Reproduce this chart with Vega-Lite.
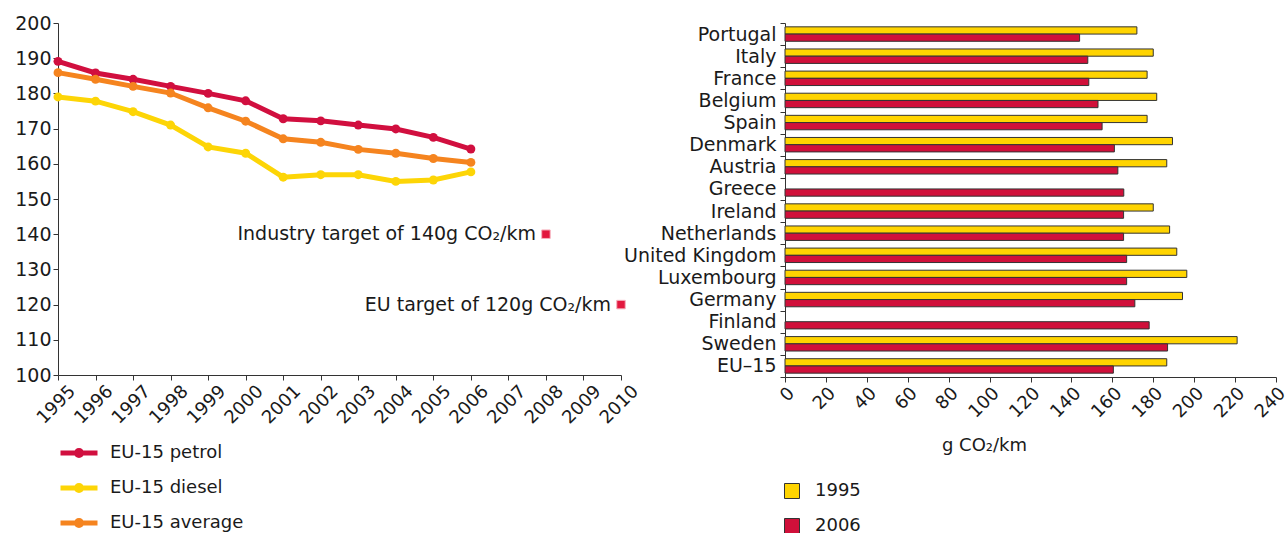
{
  "$schema": "https://vega.github.io/schema/vega-lite/v6.json",
  "padding": {"left": 14, "top": 14, "right": 0, "bottom": 0},
  "bounds": "flush",
  "spacing": 164,
  "resolve": {"scale": {"color": "independent"}, "legend": {"color": "independent"}},
  "config": {
    "font": "DejaVu Sans",
    "view": {"stroke": null},
    "axis": {
      "labelFont": "DejaVu Sans", "labelFontSize": 19, "labelColor": "#1a1a1a",
      "labelOverlap": false, "labelFlush": false,
      "domainColor": "#333333", "tickColor": "#333333", "tickSize": 5, "grid": false,
      "titleFont": "DejaVu Sans", "titleFontSize": 18, "titleFontWeight": "normal", "titleColor": "#1a1a1a"
    },
    "legend": {"labelFont": "DejaVu Sans", "labelFontSize": 18, "labelColor": "#1a1a1a", "padding": 0}
  },
  "hconcat": [
    {
      "width": 563,
      "height": 352,
      "encoding": {
        "x": {"field": "year", "type": "quantitative",
          "scale": {"domain": [1995, 2010], "nice": false, "zero": false},
          "axis": {"values": [1995,1996,1997,1998,1999,2000,2001,2002,2003,2004,2005,2006,2007,2008,2009,2010], "format": "d", "labelAngle": -45, "labelOffset": 8, "labelFontSize": 18, "labelOverlap": false, "labelFlush": false, "title": null}},
        "y": {"field": "value", "type": "quantitative",
          "scale": {"domain": [100, 200], "nice": false, "zero": false},
          "axis": {"values": [100,110,120,130,140,150,160,170,180,190,200], "labelOverlap": false, "labelFlush": false, "title": null}}
      },
      "layer": [
        {
          "data": {"values": [
            {"series": "EU-15 petrol", "year": 1995, "value": 189.1},
            {"series": "EU-15 petrol", "year": 1996, "value": 185.8},
            {"series": "EU-15 petrol", "year": 1997, "value": 184},
            {"series": "EU-15 petrol", "year": 1998, "value": 182},
            {"series": "EU-15 petrol", "year": 1999, "value": 180},
            {"series": "EU-15 petrol", "year": 2000, "value": 177.9},
            {"series": "EU-15 petrol", "year": 2001, "value": 172.8},
            {"series": "EU-15 petrol", "year": 2002, "value": 172.2},
            {"series": "EU-15 petrol", "year": 2003, "value": 171},
            {"series": "EU-15 petrol", "year": 2004, "value": 169.9},
            {"series": "EU-15 petrol", "year": 2005, "value": 167.5},
            {"series": "EU-15 petrol", "year": 2006, "value": 164.2},
            {"series": "EU-15 diesel", "year": 1995, "value": 179},
            {"series": "EU-15 diesel", "year": 1996, "value": 177.8},
            {"series": "EU-15 diesel", "year": 1997, "value": 174.8},
            {"series": "EU-15 diesel", "year": 1998, "value": 171},
            {"series": "EU-15 diesel", "year": 1999, "value": 164.8},
            {"series": "EU-15 diesel", "year": 2000, "value": 163},
            {"series": "EU-15 diesel", "year": 2001, "value": 156.2},
            {"series": "EU-15 diesel", "year": 2002, "value": 156.9},
            {"series": "EU-15 diesel", "year": 2003, "value": 156.9},
            {"series": "EU-15 diesel", "year": 2004, "value": 155},
            {"series": "EU-15 diesel", "year": 2005, "value": 155.4},
            {"series": "EU-15 diesel", "year": 2006, "value": 157.7},
            {"series": "EU-15 average", "year": 1995, "value": 185.9},
            {"series": "EU-15 average", "year": 1996, "value": 184},
            {"series": "EU-15 average", "year": 1997, "value": 182},
            {"series": "EU-15 average", "year": 1998, "value": 180.1},
            {"series": "EU-15 average", "year": 1999, "value": 175.9},
            {"series": "EU-15 average", "year": 2000, "value": 172.1},
            {"series": "EU-15 average", "year": 2001, "value": 167.1},
            {"series": "EU-15 average", "year": 2002, "value": 166.1},
            {"series": "EU-15 average", "year": 2003, "value": 164.1},
            {"series": "EU-15 average", "year": 2004, "value": 163},
            {"series": "EU-15 average", "year": 2005, "value": 161.5},
            {"series": "EU-15 average", "year": 2006, "value": 160.4}
          ]},
          "mark": {"type": "line", "strokeWidth": 5, "point": {"filled": true, "size": 80}},
          "encoding": {
            "color": {"field": "series", "type": "nominal", "sort": null,
              "scale": {"domain": ["EU-15 petrol", "EU-15 diesel", "EU-15 average"], "range": ["#d10f3f", "#fdd506", "#f5841f"]},
              "legend": {"title": null, "orient": "none", "legendX": 0, "legendY": 409,
                "symbolType": "M-1,0L1,0M0.14,0A0.14,0.14 0 1,1 -0.14,0A0.14,0.14 0 1,1 0.14,0",
                "symbolSize": 1369, "symbolStrokeWidth": 5, "labelOffset": 10, "rowPadding": 1}}
          }
        },
        {
          "data": {"values": [
            {"year": 2008, "value": 140, "label": "Industry target of 140g CO₂/km"},
            {"year": 2010, "value": 120, "label": "EU target of 120g CO₂/km"}
          ]},
          "mark": {"type": "square", "size": 72, "filled": true, "color": "#e2183e", "stroke": "#f6b0bd", "strokeWidth": 1, "opacity": 1}
        },
        {
          "data": {"values": [
            {"year": 2008, "value": 140, "label": "Industry target of 140g CO₂/km"},
            {"year": 2010, "value": 120, "label": "EU target of 120g CO₂/km"}
          ]},
          "mark": {"type": "text", "align": "right", "baseline": "middle", "dx": -10, "fontSize": 19, "color": "#1a1a1a", "font": "DejaVu Sans"},
          "encoding": {
            "text": {"field": "label"}
          }
        }
      ]
    },
    {
      "width": 491,
      "height": 354,
      "data": {"values": [
        {"country": "Portugal", "year": "1995", "value": 172},
        {"country": "Portugal", "year": "2006", "value": 144},
        {"country": "Italy", "year": "1995", "value": 180},
        {"country": "Italy", "year": "2006", "value": 148},
        {"country": "France", "year": "1995", "value": 177},
        {"country": "France", "year": "2006", "value": 148.5},
        {"country": "Belgium", "year": "1995", "value": 181.7},
        {"country": "Belgium", "year": "2006", "value": 153},
        {"country": "Spain", "year": "1995", "value": 177},
        {"country": "Spain", "year": "2006", "value": 155},
        {"country": "Denmark", "year": "1995", "value": 189.4},
        {"country": "Denmark", "year": "2006", "value": 161},
        {"country": "Austria", "year": "1995", "value": 186.6},
        {"country": "Austria", "year": "2006", "value": 162.7},
        {"country": "Greece", "year": "2006", "value": 165.6},
        {"country": "Ireland", "year": "1995", "value": 180},
        {"country": "Ireland", "year": "2006", "value": 165.5},
        {"country": "Netherlands", "year": "1995", "value": 188},
        {"country": "Netherlands", "year": "2006", "value": 165.5},
        {"country": "United Kingdom", "year": "1995", "value": 191.5},
        {"country": "United Kingdom", "year": "2006", "value": 167},
        {"country": "Luxembourg", "year": "1995", "value": 196.4},
        {"country": "Luxembourg", "year": "2006", "value": 167},
        {"country": "Germany", "year": "1995", "value": 194.3},
        {"country": "Germany", "year": "2006", "value": 171},
        {"country": "Finland", "year": "2006", "value": 178},
        {"country": "Sweden", "year": "1995", "value": 221},
        {"country": "Sweden", "year": "2006", "value": 187},
        {"country": "EU–15", "year": "1995", "value": 186.6},
        {"country": "EU–15", "year": "2006", "value": 160.5}
      ]},
      "mark": {"type": "bar", "stroke": "#333333", "strokeWidth": 1},
      "encoding": {
        "y": {"field": "country", "type": "nominal",
          "sort": ["Portugal", "Italy", "France", "Belgium", "Spain", "Denmark", "Austria", "Greece", "Ireland", "Netherlands", "United Kingdom", "Luxembourg", "Germany", "Finland", "Sweden", "EU–15"],
          "scale": {"paddingInner": 0, "paddingOuter": 0},
          "axis": {"title": null, "tickBand": "extent", "labelPadding": 4}},
        "yOffset": {"field": "year", "type": "nominal", "sort": ["1995", "2006"],
          "scale": {"domain": ["1995", "2006"], "paddingOuter": 0.53, "paddingInner": 0}},
        "x": {"field": "value", "type": "quantitative",
          "scale": {"domain": [0, 240], "nice": false},
          "axis": {"values": [0,20,40,60,80,100,120,140,160,180,200,220,240], "labelAngle": -45, "labelFontSize": 18, "labelOverlap": false, "labelFlush": false, "title": "g CO₂/km", "titleX": 199, "titleY": 68, "titleBaseline": "middle"}},
        "color": {"field": "year", "type": "nominal",
          "scale": {"domain": ["1995", "2006"], "range": ["#ffd400", "#d0103a"]},
          "legend": {"title": null, "orient": "none", "legendX": -2, "legendY": 459,
            "symbolType": "square", "symbolSize": 225, "symbolStrokeColor": "#333333", "symbolStrokeWidth": 1,
            "labelOffset": 14, "rowPadding": 15}}
      }
    }
  ]
}
